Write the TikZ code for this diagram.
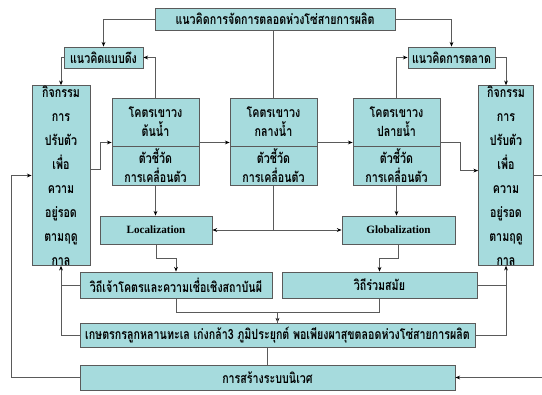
\documentclass[tikz,border=0pt]{standalone}
\usepackage{fontspec}
\usetikzlibrary{arrows.meta}
\newfontfamily\thaifont[Script=Thai,FakeStretch=0.76]{Loma}
\newfontfamily\latfont{Liberation Serif}
\definecolor{boxfill}{HTML}{A6DBDD}
\definecolor{boxline}{HTML}{5A5A5A}
\tikzset{
  blk/.style={draw=boxline, fill=boxfill, line width=0.7pt, inner sep=0pt,
    align=center, font=\thaifont\bfseries\fontsize{12}{16}\selectfont},
  wh/.style 2 args={minimum width=#1*0.03cm, minimum height=#2*0.03cm},
  conn/.style={draw=boxline, line width=0.7pt},
}
\begin{document}
\begin{tikzpicture}[x=0.03cm, y=-0.03cm, >={Stealth[length=4pt,width=3.2pt,black]}]
\useasboundingbox (0,0) rectangle (542,394);
% top row
\node[blk, wh={240}{22}] (top) at (275,19) {แนวคิดการจัดการตลอดห่วงโซ่สายการผลิต};
\node[blk, wh={79}{21}] (pull) at (103.5,57.5) {แนวคิดแบบดึง};
\node[blk, wh={87}{21}] (mkt) at (451.5,57.5) {แนวคิดการตลาด};
% side boxes
\node[blk, wh={58}{163}, font=\thaifont\bfseries\fontsize{12}{20.5}\selectfont] (ladapt) at (61,175.5)
  {กิจกรรม\\การ\\ปรับตัว\\เพื่อ\\ความ\\อยู่รอด\\ตามฤดู\\กาล};
\node[blk, wh={55}{163}, font=\thaifont\bfseries\fontsize{12}{20.5}\selectfont] (radapt) at (506,175.5)
  {กิจกรรม\\การ\\ปรับตัว\\เพื่อ\\ความ\\อยู่รอด\\ตามฤดู\\กาล};
% river boxes
\node[blk, wh={87}{48}] (up1) at (155.5,122) {โคตรเขาวง\\ต้นน้ำ};
\node[blk, wh={87}{39}] (ind1) at (155.5,165.5) {ตัวชี้วัด\\การเคลื่อนตัว};
\node[blk, wh={87}{48}] (up2) at (273.5,122) {โคตรเขาวง\\กลางน้ำ};
\node[blk, wh={87}{39}] (ind2) at (273.5,165.5) {ตัวชี้วัด\\การเคลื่อนตัว};
\node[blk, wh={87}{48}] (up3) at (396.5,122) {โคตรเขาวง\\ปลายน้ำ};
\node[blk, wh={87}{39}] (ind3) at (396.5,165.5) {ตัวชี้วัด\\การเคลื่อนตัว};
% lower boxes
\node[blk, wh={112}{28}, font=\latfont\bfseries\fontsize{9.5}{11}\selectfont] (loc) at (156,230) {Localization};
\node[blk, wh={113}{28}, font=\latfont\bfseries\fontsize{9.5}{11}\selectfont] (glob) at (398.5,230) {Globalization};
\node[blk, wh={192}{26}] (trad) at (176,285) {วิถีเจ้าโคตรและความเชื่อเชิงสถาบันผี};
\node[blk, wh={195}{26}] (modern) at (379.5,285) {วิถีร่วมสมัย};
\node[blk, wh={395}{24}] (farmer) at (277.5,335)
  {เกษตรกรลูกหลานทะเล เก่งกล้า3 ภูมิประยุกต์ พอเพียงผาสุขตลอดห่วงโซ่สายการผลิต};
\node[blk, wh={375}{25}] (eco) at (267.5,377.5) {การสร้างระบบนิเวศ};

% connectors
\draw[conn, ->] (top.west) -| (pull.north);
\draw[conn, ->] (top.east) -| (mkt.north);
\draw[conn] (up2.north) -- (up2.north |- top.south);
\draw[conn, ->] (up1.north) |- (pull.east);
\draw[conn, ->] (up3.north) |- (mkt.west);
\draw[conn, ->] (pull.west) -| (ladapt.north);
\draw[conn, ->] (mkt.east) -| (radapt.north);
\draw[conn, ->] (ladapt.11) -- ++(10,0) |- (up1.205);
\draw[conn, ->] (up1.-25) -- (up2.205);
\draw[conn, ->] (up2.-25) -- (up3.205);
\draw[conn, ->] (up3.-25) -- ++(20,0) |- (radapt.170);
\draw[conn, ->] (ind1.south) -- (ind1.south |- loc.north);
\draw[conn, ->] (ind3.south) -- (ind3.south |- glob.north);
\draw[conn, ->] (ind2.south) |- (loc.east);
\draw[conn, ->] (ind2.south) |- (glob.west);
\draw[conn, ->] (loc.south) -- ++(0,14) -| (trad.north);
\draw[conn, ->] (glob.south) -- ++(0,14) -| (modern.north);
\draw[conn, ->] (trad.south) -- ++(0,14) -| (farmer.north);
\draw[conn] (modern.south) -- ++(0,14) -| (farmer.north);
\draw[conn, ->] (farmer.west) -| (ladapt.south);
\draw[conn, ->] (farmer.east) -| (radapt.south);
\draw[conn] (trad.west) -- (trad.west -| ladapt.south);
\draw[conn] (modern.east) -- (modern.east -| radapt.south);
\draw[conn] (eco.north) -- (eco.north |- farmer.south);
\draw[conn, ->] (radapt.east) -- ++(8,0) |- (eco.east);
\draw[conn, ->] (eco.west) -- ++(-68,0) |- (ladapt.west);
\end{tikzpicture}
\end{document}
